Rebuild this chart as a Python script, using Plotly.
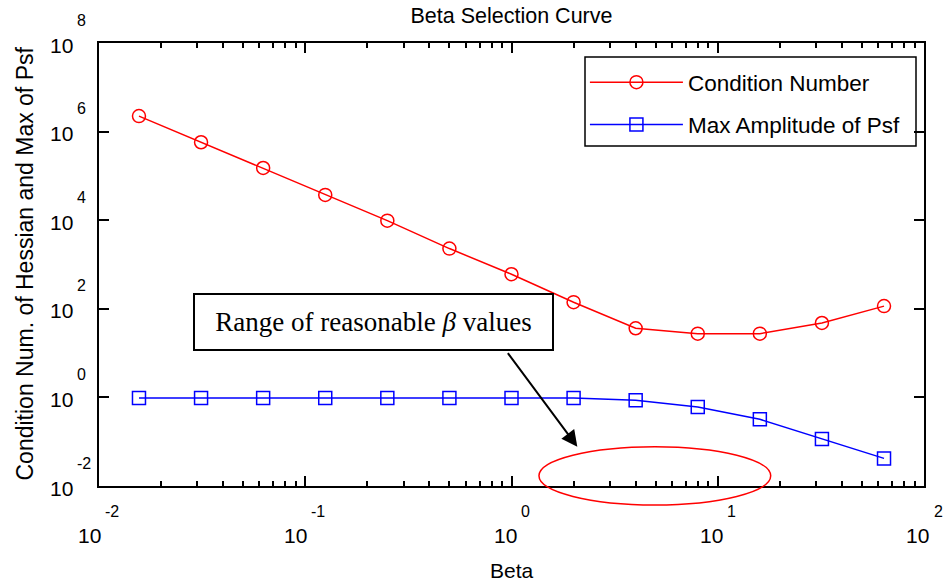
import plotly.graph_objects as go

# Regularisation parameter sweep: beta = 2^k, k = -6..6
beta = [2.0 ** k for k in range(-6, 7)]

condition_number = [2.24e6, 5.75e5, 1.51e5, 3.72e4, 9.77e3, 2.29e3, 603,
                    141, 36.3, 27.5, 27.5, 47.9, 115]
max_amp_psf = [0.97, 0.97, 0.97, 0.97, 0.97, 0.97, 0.97, 0.97,
               0.86, 0.61, 0.32, 0.115, 0.042]

x_tick_exponents = [-2, -1, 0, 1, 2]
y_tick_exponents = [-2, 0, 2, 4, 6, 8]

SANS = "Liberation Sans, Arial, sans-serif"
SERIF = "Liberation Serif, Times New Roman, serif"

fig = go.Figure()
fig.add_trace(go.Scatter(
    x=beta, y=condition_number, mode="lines+markers", name="Condition Number",
    legendgroup="a",
    line=dict(color="#ff0000", width=1.5),
    marker=dict(symbol="circle-open", size=13, color="#ff0000",
                line=dict(width=1.5, color="#ff0000")),
))
fig.add_trace(go.Scatter(
    x=beta, y=max_amp_psf, mode="lines+markers", name="Max Amplitude of Psf",
    legendgroup="b",
    line=dict(color="#0000ff", width=1.5),
    marker=dict(symbol="square-open", size=13, color="#0000ff",
                line=dict(width=1.5, color="#0000ff")),
))

minor_x = [d * 10.0 ** k for k in range(-2, 2) for d in range(2, 10)]

axis_common = dict(
    type="log", showgrid=False, zeroline=False, showticklabels=False,
    ticks="inside", ticklen=10, tickwidth=1.5, tickcolor="black",
    showline=True, linewidth=2, linecolor="black", mirror="ticks",
)
fig.update_xaxes(range=[-2, 2], tickvals=[10.0 ** e for e in x_tick_exponents],
                 minor=dict(tickvals=minor_x, ticks="inside", ticklen=5,
                            tickwidth=1.5, tickcolor="black", showgrid=False),
                 **axis_common)
fig.update_yaxes(range=[-2, 8], tickvals=[10.0 ** e for e in y_tick_exponents],
                 **axis_common)

annotations = []


def label_font(size):
    return dict(family=SANS, size=size, color="black")


# "10" with a raised exponent, the pair centred under each x tick
for e in x_tick_exponents:
    s = str(e)
    expw = 8 + 9 * (len(s) - 1)
    gap = 5 if len(s) == 1 else 2
    base_right = (23 + gap + expw) / 2 - expw - gap
    annotations.append(dict(x=e, xref="x", y=0, yref="paper", text="10",
                            showarrow=False, xanchor="center", yanchor="middle",
                            xshift=base_right - 11.5, yshift=-49,
                            font=label_font(21)))
    annotations.append(dict(x=e, xref="x", y=0, yref="paper", text=s,
                            showarrow=False, xanchor="center", yanchor="middle",
                            xshift=base_right + gap + expw / 2, yshift=-25,
                            font=label_font(16)))
# "10" with a raised exponent left of each y tick
for e in y_tick_exponents:
    annotations.append(dict(x=-2, xref="x", y=e, yref="y", text="10",
                            showarrow=False, xanchor="center", yanchor="middle",
                            xshift=-38, yshift=-2, font=label_font(21)))
    annotations.append(dict(x=-2, xref="x", y=e, yref="y", text=str(e),
                            showarrow=False, xanchor="left", yanchor="middle",
                            xshift=-24, yshift=23, font=label_font(16)))

# axis titles
annotations.append(dict(x=0.5, xref="paper", y=0, yref="paper", text="Beta",
                        showarrow=False, xanchor="center", yanchor="middle",
                        yshift=-84, font=label_font(21)))
annotations.append(dict(x=0, xref="paper", y=0.5, yref="paper",
                        text="Condition Num. of Hessian and Max of Psf",
                        textangle=-90, showarrow=False, xanchor="center",
                        yanchor="middle", xshift=-75, yshift=1,
                        font=label_font(23)))

# callout box and arrow
annotations.append(dict(x=0.3331, xref="paper", y=0.3695, yref="paper",
                        text="Range of reasonable <i>β</i> values",
                        showarrow=False, xanchor="center", yanchor="middle",
                        width=357, height=54, borderpad=0, borderwidth=2,
                        bordercolor="black", bgcolor="white",
                        font=dict(family=SERIF, size=27, color="black")))
annotations.append(dict(x=0.5798, xref="paper", y=0.0887, yref="paper",
                        text="", showarrow=True, ax=-70.6, ay=-95,
                        arrowhead=2, arrowsize=1.6, arrowwidth=2,
                        arrowcolor="black"))

shapes = [
    # ellipse marking the chosen beta range
    dict(type="circle", xref="paper", yref="paper",
         x0=0.5333, x1=0.8142, y0=-0.0429, y1=0.0887,
         line=dict(color="#ff0000", width=1.5)),
    # legend frame
    dict(type="rect", xref="paper", yref="paper",
         x0=(585 - 99) / 825, x1=(916 - 99) / 825,
         y0=(486 - 146) / 443, y1=(486 - 57) / 443,
         line=dict(color="black", width=1.5), layer="above"),
]

fig.update_layout(
    width=943, height=583,
    margin=dict(l=99, r=19, t=43, b=97),
    paper_bgcolor="white", plot_bgcolor="white",
    title=dict(text="Beta Selection Curve", x=0.5, xref="paper",
               y=1 - 15 / 583, yanchor="middle",
               font=label_font(21.5)),
    legend=dict(x=0.589, y=(486 - 61) / 443, xanchor="left", yanchor="top",
                borderwidth=0, bgcolor="rgba(0,0,0,0)",
                itemwidth=93, tracegroupgap=10,
                font=label_font(22.5)),
    annotations=annotations,
    shapes=shapes,
    showlegend=True,
)

fig.write_html("out.html")
